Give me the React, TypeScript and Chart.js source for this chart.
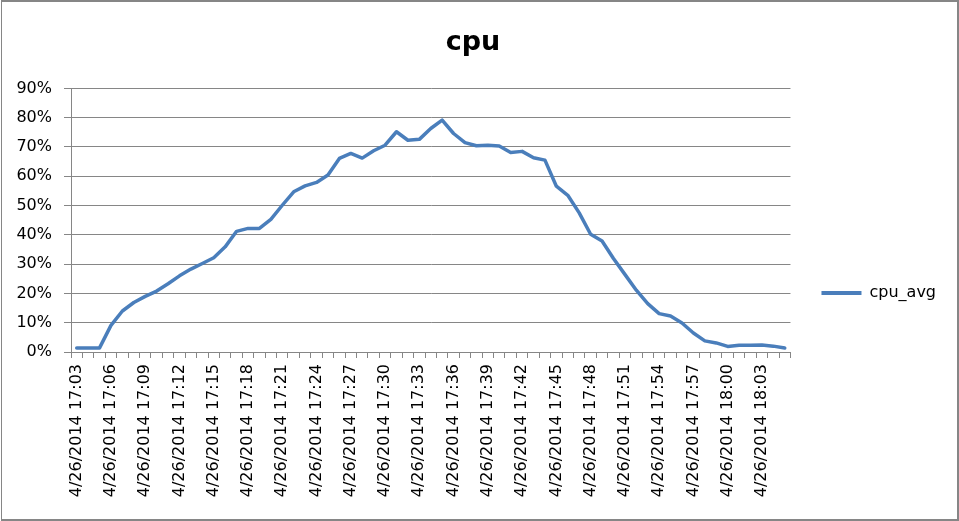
import React, { useEffect, useRef } from 'react';
import { Chart, registerables } from 'chart.js';

Chart.register(...registerables);

const TITLE = 'cpu';
const SERIES_NAME = 'cpu_avg';
const DATE = '4/26/2014';
const TIMES = [
  '17:03', '17:04', '17:05', '17:06', '17:07', '17:08', '17:09', '17:10', '17:11', '17:12',
  '17:13', '17:14', '17:15', '17:16', '17:17', '17:18', '17:19', '17:20', '17:21', '17:22',
  '17:23', '17:24', '17:25', '17:26', '17:27', '17:28', '17:29', '17:30', '17:31', '17:32',
  '17:33', '17:34', '17:35', '17:36', '17:37', '17:38', '17:39', '17:40', '17:41', '17:42',
  '17:43', '17:44', '17:45', '17:46', '17:47', '17:48', '17:49', '17:50', '17:51', '17:52',
  '17:53', '17:54', '17:55', '17:56', '17:57', '17:58', '17:59', '18:00', '18:01', '18:02',
  '18:03', '18:04', '18:05',
];
// cpu_avg in percent
const CPU_AVG = [
  1.4, 1.4, 1.4, 9.1, 14.0, 16.9, 19.0, 20.8, 23.3, 26.0,
  28.3, 30.2, 32.2, 35.9, 41.2, 42.2, 42.2, 45.3, 50.1, 54.7,
  56.7, 57.9, 60.4, 66.1, 67.8, 66.2, 68.7, 70.6, 75.2, 72.3,
  72.6, 76.3, 79.2, 74.6, 71.5, 70.4, 70.6, 70.3, 68.1, 68.5,
  66.3, 65.5, 56.6, 53.5, 47.5, 40.2, 37.9, 31.9, 26.5, 21.1,
  16.5, 13.1, 12.3, 9.9, 6.5, 3.8, 3.1, 1.9, 2.3, 2.3,
  2.4, 2.0, 1.4,
];
const Y_MIN = 0;
const Y_MAX = 90;
const Y_STEP = 10;
const LABEL_EVERY = 3;

const CATEGORIES = TIMES.map((t) => `${DATE} ${t}`);

const LINE_COLOR = '#4A7EBB';
const GRID_COLOR = '#868686';
const FONT = 'DejaVu Sans';
const W = 959;
const H = 521;
const LEGEND_CENTER_Y = 293;

const legendShift = {
  id: 'legendShift',
  afterLayout(chart: any) {
    const l = chart.legend;
    if (!l) return;
    const shift = LEGEND_CENTER_Y - (l.top + l.bottom) / 2;
    l.top += shift;
    l.bottom += shift;
  },
};

export default function App() {
  const ref = useRef<HTMLCanvasElement | null>(null);

  useEffect(() => {
    if (!ref.current) return;
    Chart.defaults.font.family = FONT;
    Chart.defaults.font.size = 16;
    Chart.defaults.color = '#000';
    const chart = new Chart(ref.current, {
      type: 'line',
      data: {
        labels: CATEGORIES,
        datasets: [
          {
            label: SERIES_NAME,
            data: CPU_AVG,
            borderColor: LINE_COLOR,
            backgroundColor: LINE_COLOR,
            borderWidth: 3.5,
            pointRadius: 0,
            pointHoverRadius: 0,
            tension: 0,
            fill: false,
            borderJoinStyle: 'round',
            borderCapStyle: 'round',
          },
        ],
      },
      options: {
        responsive: false,
        animation: false,
        devicePixelRatio: 1,
        layout: { padding: { left: 0, right: 13, top: 0, bottom: 0 } },
        plugins: {
          title: {
            display: true,
            text: TITLE,
            color: '#000',
            font: { family: FONT, size: 27, weight: 'bold' },
            padding: { top: 27, bottom: 29 },
          },
          legend: {
            display: true,
            position: 'right',
            labels: {
              boxWidth: 40,
              boxHeight: 4,
              padding: 31,
              color: '#000',
              font: { family: FONT, size: 16 },
              generateLabels: (c: any) =>
                Chart.defaults.plugins.legend.labels
                  .generateLabels(c)
                  .map((it: any) => ({ ...it, lineWidth: 0, fillStyle: LINE_COLOR, strokeStyle: LINE_COLOR })),
            },
          },
          tooltip: { enabled: false },
        },
        scales: {
          x: {
            type: 'category',
            offset: true,
            grid: {
              display: true,
              drawOnChartArea: false,
              drawTicks: true,
              tickLength: 6,
              offset: true,
              color: GRID_COLOR,
            },
            border: { display: true, color: GRID_COLOR, width: 1 },
            ticks: {
              autoSkip: false,
              minRotation: 90,
              maxRotation: 90,
              padding: 6,
              color: '#000',
              font: { family: FONT, size: 16 },
              callback: (_v: any, i: number) => (i % LABEL_EVERY === 0 ? CATEGORIES[i] : ''),
            },
            afterFit: (s: any) => {
              s.height = 169;
            },
          },
          y: {
            min: Y_MIN,
            max: Y_MAX,
            ticks: {
              stepSize: Y_STEP,
              padding: 12,
              color: '#000',
              font: { family: FONT, size: 16 },
              callback: (v: any) => `${v}%`,
            },
            grid: { color: GRID_COLOR, tickLength: 7, drawTicks: true },
            border: { display: true, color: GRID_COLOR, width: 1 },
            afterFit: (s: any) => {
              s.width = 71;
            },
          },
        },
      },
      plugins: [legendShift],
    } as any);
    return () => chart.destroy();
  }, []);

  return (
    <div style={{ position: 'fixed', left: 0, top: 0, width: W, height: H, background: '#fff', overflow: 'hidden' }}>
      <canvas ref={ref} width={W} height={H} style={{ position: 'absolute', left: 0, top: 0, width: W, height: H }} />
      <div
        style={{
          position: 'absolute',
          left: 1,
          top: 0,
          right: 0,
          bottom: 0,
          boxSizing: 'border-box',
          borderLeft: `1px solid ${GRID_COLOR}`,
          borderTop: `2px solid ${GRID_COLOR}`,
          borderRight: `2px solid ${GRID_COLOR}`,
          borderBottom: `2px solid ${GRID_COLOR}`,
          pointerEvents: 'none',
        }}
      />
    </div>
  );
}
